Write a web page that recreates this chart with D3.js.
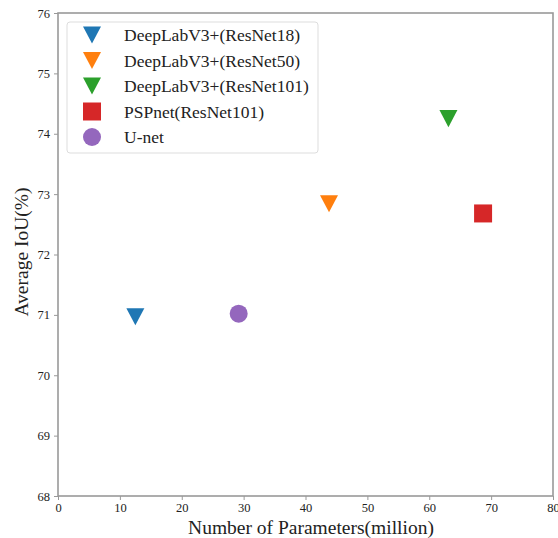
<!DOCTYPE html>
<html>
<head>
<meta charset="utf-8">
<script src="https://cdn.jsdelivr.net/npm/d3@7"></script>
<style>
  html, body { margin: 0; padding: 0; background: #fff; }
  svg { display: block; }
</style>
</head>
<body>
<svg id="chart" width="558" height="538"></svg>
<script>
const models = ["DeepLabV3+(ResNet18)", "DeepLabV3+(ResNet50)", "DeepLabV3+(ResNet101)", "PSPnet(ResNet101)", "U-net"];
const params = [12.5, 43.8, 63.1, 68.7, 29.2];
const miou = [70.97, 72.84, 74.25, 72.68, 71.02];
const shapes = ["triangleDown", "triangleDown", "triangleDown", "square", "circle"];
const colors = ["#1f77b4", "#ff7f0e", "#2ca02c", "#d62728", "#9467bd"];
const xTicks = [0, 10, 20, 30, 40, 50, 60, 70, 80];
const yTicks = [68, 69, 70, 71, 72, 73, 74, 75, 76];

const svg = d3.select("#chart");
const m = { left: 58, right: 553, top: 13, bottom: 496 };
const x = d3.scaleLinear().domain([0, 80]).range([m.left, m.right]);
const y = d3.scaleLinear().domain([68, 76]).range([m.bottom, m.top]);
const font = "'Liberation Serif', 'Times New Roman', serif";
const spine = "#999";

function markerPath(shape, s) {
  if (shape === "triangleDown") {
    const h = s * 0.95;
    return `M${-s/2},${-h/2}L${s/2},${-h/2}L0,${h/2}Z`;
  }
  if (shape === "square") {
    return `M${-s/2},${-s/2}h${s}v${s}h${-s}Z`;
  }
  const r = s / 2;
  return `M${r},0A${r},${r} 0 1,1 ${-r},0A${r},${r} 0 1,1 ${r},0Z`;
}

// axes
const xAxis = svg.append("g").attr("transform", `translate(0,${m.bottom})`)
  .call(d3.axisBottom(x).tickValues(xTicks).tickSize(4).tickPadding(3).tickFormat(d3.format("d")));
const yAxis = svg.append("g").attr("transform", `translate(${m.left},0)`)
  .call(d3.axisLeft(y).tickValues(yTicks).tickSize(4).tickPadding(4).tickFormat(d3.format("d")));
[xAxis, yAxis].forEach(g => {
  g.select(".domain").remove();
  g.selectAll(".tick line").attr("stroke", spine).attr("stroke-width", 1);
  g.selectAll(".tick text").attr("font-family", font).attr("font-size", 12.5).attr("fill", "#222");
});

// frame
svg.append("rect").attr("x", m.left).attr("y", m.top)
  .attr("width", m.right - m.left).attr("height", m.bottom - m.top)
  .attr("fill", "none").attr("stroke", spine).attr("stroke-width", 1.6);

// points
svg.append("g").selectAll("path").data(models).join("path")
  .attr("transform", (d, i) => `translate(${x(params[i])},${y(miou[i])})`)
  .attr("d", (d, i) => markerPath(shapes[i], 18))
  .attr("fill", (d, i) => colors[i]);

// legend
const lg = svg.append("g");
lg.append("rect").attr("x", 67).attr("y", 22).attr("width", 251).attr("height", 131)
  .attr("rx", 3).attr("fill", "#fff").attr("stroke", "#ddd").attr("stroke-width", 1);
const rows = lg.selectAll("g.row").data(models).join("g")
  .attr("transform", (d, i) => `translate(0,${35 + i * 25.5})`);
rows.append("path").attr("transform", "translate(92,0)")
  .attr("d", (d, i) => markerPath(shapes[i], 18))
  .attr("fill", (d, i) => colors[i]);
rows.append("text").attr("x", 124).attr("y", 0).attr("dy", "0.35em")
  .attr("font-family", font).attr("font-size", 17.5).attr("fill", "#222")
  .text(d => d);

// axis labels
svg.append("text").attr("x", 311).attr("y", 534)
  .attr("text-anchor", "middle").attr("font-family", font).attr("font-size", 19.5).attr("fill", "#222")
  .text("Number of Parameters(million)");
svg.append("text").attr("transform", `translate(28,252) rotate(-90)`)
  .attr("text-anchor", "middle").attr("font-family", font).attr("font-size", 19.5).attr("fill", "#222")
  .text("Average IoU(%)");
</script>
</body>
</html>
